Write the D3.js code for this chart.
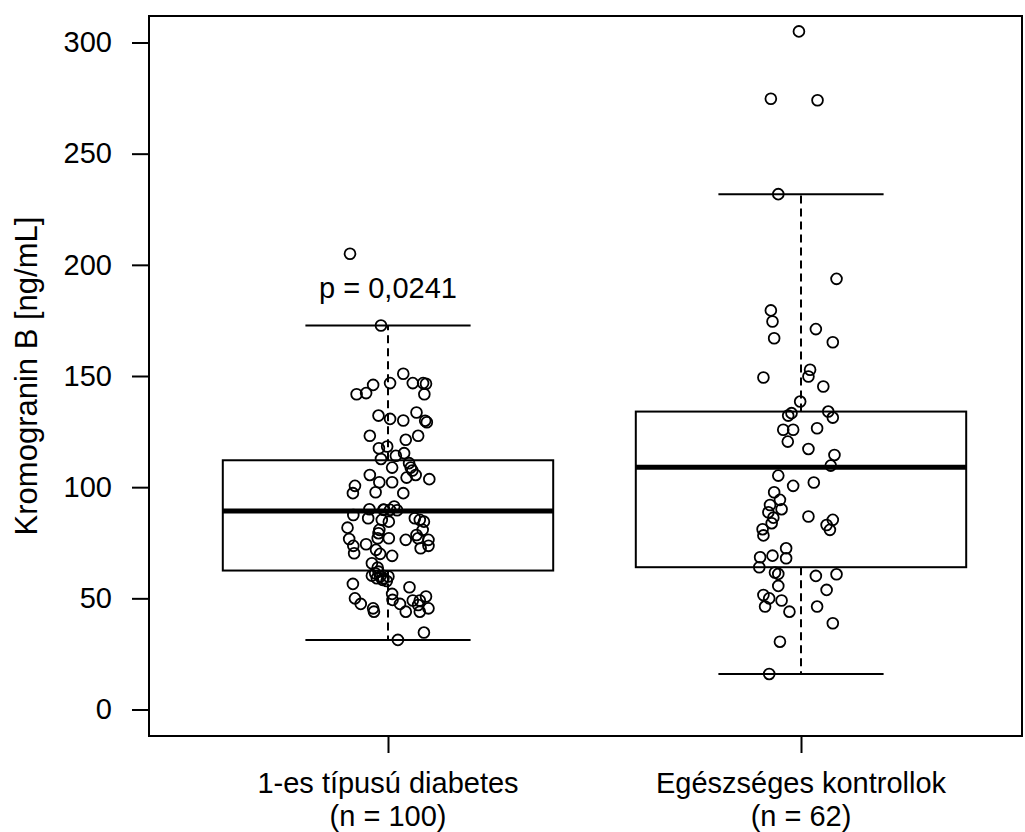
<!DOCTYPE html>
<html>
<head>
<meta charset="utf-8">
<script src="https://cdn.jsdelivr.net/npm/d3@7"></script>
<style>
  body { margin: 0; background: #fff; }
  text { font-family: "Liberation Sans", Arial, sans-serif; fill: #000; }
</style>
</head>
<body>
<script>
/* data */
var categories = ["1-es típusú diabetes", "Egészséges kontrollok"];
var groupN = ["(n = 100)", "(n = 62)"];
var yTicks = [0, 50, 100, 150, 200, 250, 300];
var yLabel = "Kromogranin B [ng/mL]";
var pLabel = "p = 0,0241";

// box statistics per group (lower whisker, Q1, median, Q3, upper whisker)
var whiskerLow = [31.3, 16.0];
var q1 = [62.5, 64.0];
var median = [89.3, 109.0];
var q3 = [112.1, 134.0];
var whiskerHigh = [172.7, 231.8];

// individual measurements and their horizontal jitter (in category units)
var diabetesValues = [205.0, 172.7, 151.0, 146.0, 146.8, 146.8, 146.8, 146.5, 142.3, 141.8,
  141.8, 132.2, 130.7, 130.0, 133.6, 129.9, 129.2, 123.1, 121.3, 123.1,
  117.5, 118.3, 115.3, 114.1, 112.7, 110.8, 108.8, 107.5, 108.8, 105.5,
  103.6, 104.3, 105.5, 102.2, 102.2, 100.6, 97.3, 97.7, 97.3, 90.1,
  89.8, 89.8, 91.3, 87.5, 86.0, 85.3, 84.5, 86.0, 85.3, 84.5,
  81.8, 80.8, 80.8, 78.5, 76.7, 77.0, 77.0, 76.3, 76.3, 77.0,
  73.6, 74.3, 73.6, 70.3, 71.8, 70.0, 72.5, 69.1, 65.8, 63.8,
  60.2, 59.0, 59.8, 58.3, 59.8, 61.3, 56.5, 55.0, 52.0, 49.3,
  50.0, 47.5, 45.5, 44.0, 47.5, 44.0, 49.0, 49.0, 50.8, 44.0,
  45.5, 34.6, 31.3, 62.0, 59.0, 57.8, 79.3, 89.9, 47.0, 89.6];
var diabetesJitter = [-0.092, -0.017, 0.037, -0.036, 0.005, 0.060, 0.085, 0.092, -0.053, -0.076,
  0.088, -0.023, 0.005, 0.037, 0.069, 0.090, 0.094, -0.044, 0.043, 0.073,
  -0.022, -0.002, 0.039, 0.019, -0.017, 0.051, 0.055, 0.059, 0.010, 0.067,
  0.100, 0.045, -0.044, -0.021, 0.010, -0.080, -0.085, -0.030, 0.037, -0.045,
  -0.010, 0.005, 0.015, -0.084, -0.048, -0.015, 0.002, 0.065, 0.077, 0.087,
  -0.098, -0.021, 0.084, 0.069, -0.094, -0.025, 0.002, 0.043, 0.098, 0.073,
  -0.084, -0.053, 0.098, -0.082, -0.029, -0.019, 0.079, 0.010, -0.039, -0.025,
  -0.039, -0.027, -0.019, -0.013, 0.001, -0.031, -0.085, 0.052, 0.010, 0.011,
  -0.080, -0.066, -0.036, -0.034, 0.029, 0.043, 0.060, 0.077, 0.092, 0.077,
  0.098, 0.087, 0.024, -0.023, -0.011, -0.003, -0.023, -0.011, 0.073, 0.022];

var controlValues = [305.0, 274.7, 274.0, 231.8, 193.7, 179.5, 174.5, 167.0, 171.1, 165.2,
  149.3, 152.8, 149.8, 145.3, 138.5, 132.2, 133.3, 134.0, 131.3, 125.8,
  125.8, 126.5, 120.5, 117.2, 114.5, 109.7, 105.2, 100.6, 102.1, 97.7,
  94.3, 92.0, 90.1, 88.7, 86.3, 83.8, 86.8, 85.3, 83.0, 80.8,
  81.1, 78.3, 72.5, 69.2, 68.5, 68.0, 64.0, 61.6, 61.0, 60.1,
  60.8, 55.6, 53.8, 51.5, 50.0, 46.3, 49.0, 44.0, 46.3, 38.8,
  30.5, 16.0];
var controlJitter = [-0.005, -0.073, 0.040, -0.055, 0.086, -0.073, -0.069, -0.065, 0.036, 0.077,
  -0.091, 0.022, 0.018, 0.054, -0.002, -0.031, -0.023, 0.066, 0.077, -0.043,
  -0.019, 0.039, -0.032, 0.018, 0.081, 0.072, -0.055, -0.019, 0.031, -0.065,
  -0.051, -0.075, -0.047, -0.079, -0.067, -0.071, 0.018, 0.077, 0.062, 0.070,
  -0.093, -0.091, -0.036, -0.069, -0.099, -0.036, -0.101, -0.063, -0.055, 0.036,
  0.086, -0.055, 0.062, -0.091, -0.077, -0.087, -0.047, -0.028, 0.039, 0.077,
  -0.051, -0.077];

var width = 1025, height = 832;
var frame = {left: 149, right: 1022, top: 16, bottom: 736};
var fontsize = "29px";
var titlefont = "31px";
var boxWidth = 0.8;

var svg = d3.select("body")
  .append("svg").attr("width", width).attr("height", height)
  .style("background", "#fff");

// scales: category 1 and 2 sit at x = 1, 2
var x = d3.scaleLinear().domain([1, 2]).range([388, 801]);
var y = d3.scaleLinear().domain([0, 300]).range([709.5, 42.5]);

// plot frame
svg.append("rect")
  .attr("x", frame.left).attr("y", frame.top)
  .attr("width", frame.right - frame.left).attr("height", frame.bottom - frame.top)
  .attr("fill", "none").attr("stroke", "#000").attr("stroke-width", 2);

// y axis (ticks only, the frame is the axis line)
var yAxis = d3.axisLeft(y).tickValues(yTicks).tickSize(17).tickPadding(20);
var gy = svg.append("g").attr("transform", "translate(" + frame.left + ",0)").call(yAxis);
gy.select(".domain").remove();
gy.selectAll(".tick line").attr("stroke", "#000").attr("stroke-width", 2);
gy.selectAll(".tick text").style("font-size", fontsize)
  .style("font-family", "'Liberation Sans', Arial, sans-serif").attr("fill", "#000");

// x axis ticks and two-line labels
var xAxis = d3.axisBottom(x).tickValues([1, 2]).tickSize(17).tickFormat("");
var gx = svg.append("g").attr("transform", "translate(0," + frame.bottom + ")").call(xAxis);
gx.select(".domain").remove();
gx.selectAll(".tick line").attr("stroke", "#000").attr("stroke-width", 2);

categories.forEach(function(c, i) {
  var t = svg.append("text")
    .attr("x", x(i + 1)).attr("y", 793)
    .attr("text-anchor", "middle").style("font-size", fontsize);
  t.append("tspan").attr("x", x(i + 1)).text(c);
  t.append("tspan").attr("x", x(i + 1)).attr("dy", 33).text(groupN[i]);
});

// y axis title
svg.append("text")
  .attr("transform", "translate(37," + ((frame.top + frame.bottom) / 2) + ") rotate(-90)")
  .attr("text-anchor", "middle").style("font-size", titlefont)
  .text(yLabel);

// boxes
var boxes = svg.append("g").attr("class", "boxes");
categories.forEach(function(c, i) {
  var cx = i + 1;
  var g = boxes.append("g");
  // dashed whiskers
  g.append("line").attr("x1", x(cx)).attr("x2", x(cx))
    .attr("y1", y(q3[i])).attr("y2", y(whiskerHigh[i]))
    .attr("stroke", "#000").attr("stroke-width", 2).attr("stroke-dasharray", "8,5");
  g.append("line").attr("x1", x(cx)).attr("x2", x(cx))
    .attr("y1", y(q1[i])).attr("y2", y(whiskerLow[i]))
    .attr("stroke", "#000").attr("stroke-width", 2).attr("stroke-dasharray", "8,5");
  // caps
  [whiskerLow[i], whiskerHigh[i]].forEach(function(v) {
    g.append("line")
      .attr("x1", x(cx - boxWidth / 4)).attr("x2", x(cx + boxWidth / 4))
      .attr("y1", y(v)).attr("y2", y(v))
      .attr("stroke", "#000").attr("stroke-width", 2);
  });
  // box
  g.append("rect")
    .attr("x", x(cx - boxWidth / 2)).attr("y", y(q3[i]))
    .attr("width", x(cx + boxWidth / 2) - x(cx - boxWidth / 2))
    .attr("height", y(q1[i]) - y(q3[i]))
    .attr("fill", "none").attr("stroke", "#000").attr("stroke-width", 2);
  // median
  g.append("line")
    .attr("x1", x(cx - boxWidth / 2)).attr("x2", x(cx + boxWidth / 2))
    .attr("y1", y(median[i])).attr("y2", y(median[i]))
    .attr("stroke", "#000").attr("stroke-width", 5);
});

// jittered points
var pts = [];
diabetesValues.forEach(function(v, k) { pts.push({g: 1, v: v, j: diabetesJitter[k]}); });
controlValues.forEach(function(v, k) { pts.push({g: 2, v: v, j: controlJitter[k]}); });

svg.append("g").selectAll("circle").data(pts).enter()
  .append("circle")
  .attr("cx", function(d) { return x(d.g + d.j); })
  .attr("cy", function(d) { return y(d.v); })
  .attr("r", 5.4)
  .attr("fill", "none").attr("stroke", "#000").attr("stroke-width", 1.8);

// p value annotation
svg.append("text")
  .attr("x", x(1)).attr("y", 298)
  .attr("text-anchor", "middle").style("font-size", fontsize)
  .text(pLabel);
</script>
</body>
</html>
